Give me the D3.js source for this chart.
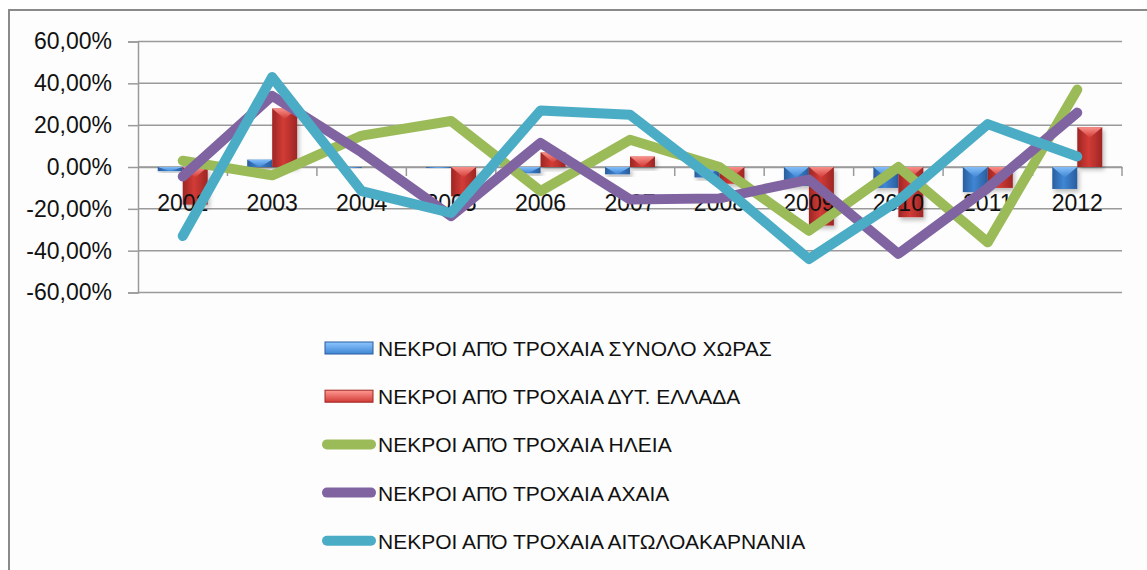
<!DOCTYPE html>
<html>
<head>
<meta charset="utf-8">
<script src="https://cdn.jsdelivr.net/npm/d3@7/dist/d3.min.js"></script>
<style>
  html, body { margin: 0; padding: 0; background: #fff; }
  svg { display: block; }
  text { font-family: "Liberation Sans", Arial, sans-serif; fill: #111; }
</style>
</head>
<body>
<svg id="chart" width="1147" height="570"></svg>
<script>
// Annual percentage change of road-accident deaths, 2002–2012
const years = ["2002","2003","2004","2005","2006","2007","2008","2009","2010","2011","2012"];

// Bar series
const totalCountry = [-0.02, 0.035, -0.005, -0.005, -0.03, -0.035, -0.05, -0.09, -0.10, -0.12, -0.105];
const westGreece   = [-0.18, 0.28, 0.0, -0.14, 0.07, 0.05, -0.08, -0.28, -0.24, -0.10, 0.19];

// Line series
const ilia     = [0.03, -0.04, 0.15, 0.22, -0.115, 0.13, 0.0, -0.305, 0.0, -0.36, 0.37];
const achaia   = [-0.045, 0.34, 0.07, -0.235, 0.115, -0.155, -0.15, -0.06, -0.415, -0.10, 0.26];
const aitoloak = [-0.33, 0.43, -0.115, -0.22, 0.27, 0.25, -0.08, -0.44, -0.16, 0.205, 0.05];

const yTicks = [0.6, 0.4, 0.2, 0, -0.2, -0.4, -0.6];

const seriesNames = [
  "ΝΕΚΡΟΙ ΑΠΌ ΤΡΟΧΑΙΑ ΣΥΝΟΛΟ ΧΩΡΑΣ",
  "ΝΕΚΡΟΙ ΑΠΌ ΤΡΟΧΑΙΑ ΔΥΤ. ΕΛΛΑΔΑ",
  "ΝΕΚΡΟΙ ΑΠΌ ΤΡΟΧΑΙΑ ΗΛΕΙΑ",
  "ΝΕΚΡΟΙ ΑΠΌ ΤΡΟΧΑΙΑ ΑΧΑΙΑ",
  "ΝΕΚΡΟΙ ΑΠΌ ΤΡΟΧΑΙΑ ΑΙΤΩΛΟΑΚΑΡΝΑΝΙΑ"
];

const svg = d3.select("#chart");
const W = 1147, H = 570;

// Frame of the chart area (top and left edges visible)
svg.append("rect").attr("x", 9).attr("y", 10).attr("width", W).attr("height", H)
  .attr("fill", "#fdfdfd").attr("stroke", "#8a8a8a").attr("stroke-width", 2);

const plot = { left: 138, right: 1122, top: 41.5, bottom: 292.5 };

const x = d3.scaleBand().domain(years).range([plot.left, plot.right]).paddingInner(0).paddingOuter(0);
const x1 = d3.scaleBand().domain(["total", "west"]).range([0, x.bandwidth()]).paddingInner(0).paddingOuter(0.79);
const y = d3.scaleLinear().domain([-0.6, 0.6]).range([plot.bottom, plot.top]);

const pct = d => (d3.format(".2f")(d * 100).replace(".", ",") + "%").replace("\u2212", "-");

// Gradients and shadow
const defs = svg.append("defs");
function barGradients(id, dark, mid, light) {
  const g = defs.append("linearGradient").attr("id", id).attr("x1", 0).attr("x2", 1).attr("y1", 0).attr("y2", 0);
  g.append("stop").attr("offset", "0%").attr("stop-color", dark);
  g.append("stop").attr("offset", "45%").attr("stop-color", mid);
  g.append("stop").attr("offset", "100%").attr("stop-color", dark);
  const t = defs.append("linearGradient").attr("id", id + "Top").attr("x1", 0).attr("x2", 0).attr("y1", 0).attr("y2", 1);
  t.append("stop").attr("offset", "0%").attr("stop-color", light);
  t.append("stop").attr("offset", "100%").attr("stop-color", mid);
}
barGradients("gBlue", "#2a5d9e", "#3f86d4", "#8cc6ff");
barGradients("gRed", "#9e2624", "#d23b36", "#ff9a94");
const f = defs.append("filter").attr("id", "shadow").attr("x", "-30%").attr("y", "-30%").attr("width", "160%").attr("height", "160%");
f.append("feDropShadow").attr("dx", 2).attr("dy", 3).attr("stdDeviation", 2).attr("flood-color", "#000").attr("flood-opacity", 0.25);

// Y axis with gridlines
const yAxis = d3.axisLeft(y).tickValues(yTicks).tickFormat(pct).tickSize(10).tickPadding(16);
const gy = svg.append("g").attr("transform", `translate(${plot.left},0)`).call(yAxis);
gy.select(".domain").attr("stroke", "#9a9a9a").attr("stroke-width", 1.5);
gy.selectAll(".tick line").attr("stroke", "#9a9a9a").attr("stroke-width", 1.5);
gy.selectAll(".tick text").style("font-size", "23px").attr("fill", "#1a1a1a");
svg.append("g").selectAll("line").data(yTicks).join("line")
  .attr("x1", plot.left).attr("x2", plot.right)
  .attr("y1", d => y(d)).attr("y2", d => y(d))
  .attr("stroke", "#9a9a9a").attr("stroke-width", 1.5);

// Category axis at zero
const xAxis = d3.axisBottom(x).tickSize(0).tickPadding(0);
const gx = svg.append("g").attr("transform", `translate(0,${y(0)})`).call(xAxis);
gx.select(".domain").attr("stroke", "#9a9a9a").attr("stroke-width", 1.5);
gx.selectAll(".tick text").remove();
// tick marks between categories
const bounds = years.map(d => x(d)).concat([plot.right]).slice(1);
svg.append("g").selectAll("line").data(bounds).join("line")
  .attr("x1", d => d).attr("x2", d => d)
  .attr("y1", y(0)).attr("y2", y(0) + 9)
  .attr("stroke", "#9a9a9a").attr("stroke-width", 1.5);

// Bars
const barData = [];
years.forEach((yr, i) => {
  barData.push({ yr, key: "total", v: totalCountry[i], fill: "gBlue" });
  barData.push({ yr, key: "west", v: westGreece[i], fill: "gRed" });
});
const bars = svg.append("g").selectAll("g").data(barData).join("g").attr("filter", "url(#shadow)");
bars.append("rect")
  .attr("x", d => x(d.yr) + x1(d.key))
  .attr("y", d => Math.min(y(d.v), y(0)))
  .attr("width", x1.bandwidth())
  .attr("height", d => Math.abs(y(d.v) - y(0)))
  .attr("fill", d => `url(#${d.fill})`);
bars.append("path")
  .attr("d", d => {
    const bx = x(d.yr) + x1(d.key), w = x1.bandwidth();
    const top = Math.min(y(d.v), y(0));
    const h = Math.abs(y(d.v) - y(0));
    const depth = Math.min(h, w * 0.42);
    return `M${bx},${top}L${bx + w},${top}L${bx + w / 2},${top + depth}Z`;
  })
  .attr("fill", d => `url(#${d.fill}Top)`)
  .attr("opacity", 0.9);

// Category labels
svg.append("g").selectAll("text").data(years).join("text")
  .attr("x", d => x(d) + x.bandwidth() / 2)
  .attr("y", y(0) + 44)
  .attr("text-anchor", "middle")
  .style("font-size", "23px")
  .text(d => d);

// Lines
const lineSeries = [
  { vals: ilia, color: "#9bbb59" },
  { vals: achaia, color: "#8064a2" },
  { vals: aitoloak, color: "#4bacc6" }
];
const line = d3.line().x((d, i) => x(years[i]) + x.bandwidth() / 2).y(d => y(d));
svg.append("g").selectAll("path").data(lineSeries).join("path")
  .attr("d", d => line(d.vals))
  .attr("fill", "none")
  .attr("stroke", d => d.color)
  .attr("stroke-width", 10)
  .attr("stroke-linejoin", "round")
  .attr("stroke-linecap", "round");

// Legend
const legendItems = [
  { name: seriesNames[0], type: "bar", fill: "gBlue" },
  { name: seriesNames[1], type: "bar", fill: "gRed" },
  { name: seriesNames[2], type: "line", color: "#9bbb59" },
  { name: seriesNames[3], type: "line", color: "#8064a2" },
  { name: seriesNames[4], type: "line", color: "#4bacc6" }
];
const lg = svg.append("g").selectAll("g").data(legendItems).join("g")
  .attr("transform", (d, i) => `translate(0,${348 + i * 48.2})`);
lg.filter(d => d.type === "bar").append("rect")
  .attr("x", 325).attr("y", -6).attr("width", 48).attr("height", 12)
  .attr("fill", d => `url(#${d.fill}Top)`).attr("stroke", d => d.fill === "gBlue" ? "#2a5d9e" : "#9e2624").attr("stroke-width", 1);
lg.filter(d => d.type === "line").append("line")
  .attr("x1", 327).attr("x2", 371).attr("y1", 0).attr("y2", 0)
  .attr("stroke", d => d.color).attr("stroke-width", 10).attr("stroke-linecap", "round");
lg.append("text").attr("x", 378).attr("y", 8).style("font-size", "21px").text(d => d.name);
</script>
</body>
</html>
